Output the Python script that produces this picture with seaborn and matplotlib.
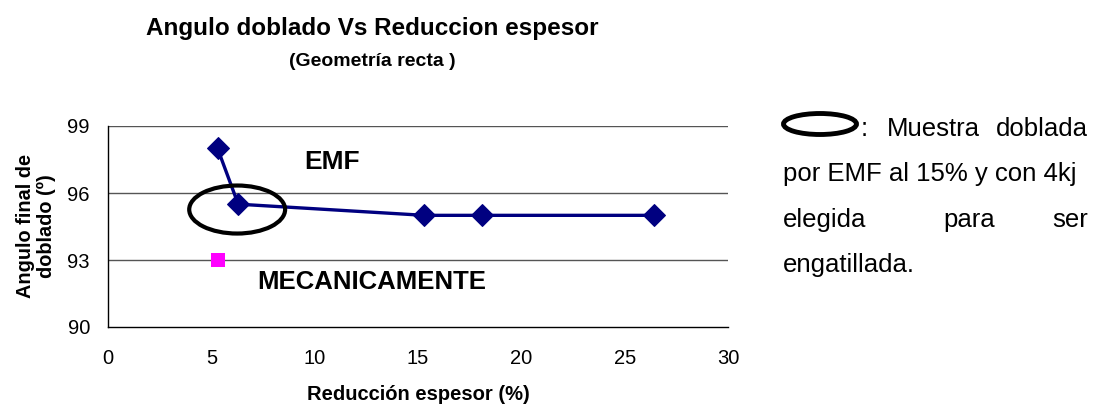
import matplotlib
matplotlib.use("Agg")
from matplotlib import pyplot as plt
from matplotlib.patches import Ellipse
import pandas as pd
import seaborn as sns

# datos
reduccion_emf = [5.3, 6.3, 15.3, 18.1, 26.4]
angulo_emf = [98.0, 95.5, 95.0, 95.0, 95.0]
reduccion_mec = [5.3]
angulo_mec = [93.0]
xticks = [0, 5, 10, 15, 20, 25, 30]
yticks = [90, 93, 96, 99]

sns.set_style("white")
plt.rcParams["font.family"] = ["Liberation Sans", "DejaVu Sans"]
plt.rcParams["text.color"] = "black"
plt.rcParams["axes.labelcolor"] = "black"
plt.rcParams["xtick.color"] = "black"
plt.rcParams["ytick.color"] = "black"

W, H = 1099, 405
fig = plt.figure(figsize=(W / 100, H / 100), dpi=100)
ax = fig.add_axes([108 / W, 1 - 327 / H, 620 / W, 201 / H])

df_emf = pd.DataFrame({"x": reduccion_emf, "y": angulo_emf})
df_mec = pd.DataFrame({"x": reduccion_mec, "y": angulo_mec})

for t in yticks[1:]:
    ax.axhline(t, color="#555555", linewidth=1.0, zorder=0)

sns.lineplot(data=df_emf, x="x", y="y", ax=ax, color="#000080", linewidth=2.4,
             marker="D", markersize=11, markeredgecolor="#000080", sort=False)
sns.scatterplot(data=df_mec, x="x", y="y", ax=ax, color="#FF00FF", marker="s",
                s=100, edgecolor="#FF00FF", linewidth=0, zorder=5)

ax.add_patch(Ellipse((6.25, 95.26), 4.64, 2.15, fill=False, edgecolor="black",
                     linewidth=3, zorder=6))

ax.text(9.5, 97.37, "EMF", fontsize=19, fontweight="bold", va="center", ha="left")
ax.text(7.2, 92.0, "MECANICAMENTE", fontsize=18.5, fontweight="bold",
        va="center", ha="left")

ax.set_xlim(0, 30)
ax.set_ylim(90, 99)
ax.set_xticks(xticks)
ax.set_yticks(yticks)
ax.tick_params(axis="both", direction="out", length=6, width=1, pad=7,
               labelsize=14.5)
ax.tick_params(axis="x", pad=10)
for s in ["top", "right"]:
    ax.spines[s].set_visible(False)
for s in ["left", "bottom"]:
    ax.spines[s].set_color("black")
    ax.spines[s].set_linewidth(1)

ax.set_xlabel("Reducción espesor (%)", fontsize=14.5, fontweight="bold", labelpad=12)
ax.set_ylabel("Angulo final de\ndoblado (º)", fontsize=14.3, fontweight="bold",
              labelpad=8, linespacing=1.15)

fig.text(372 / W, 1 - 28 / H, "Angulo doblado Vs Reduccion espesor",
         fontsize=17.5, fontweight="bold", ha="center", va="center")
fig.text(372 / W, 1 - 61 / H, "(Geometría recta )",
         fontsize=14, fontweight="bold", ha="center", va="center")

# nota lateral
fig.add_artist(Ellipse((820 / W, 1 - 124 / H), 73 / W, 21 / H, fill=False,
                       edgecolor="black", linewidth=3.5,
                       transform=fig.transFigure))
fs = 18.5
def ftxt(px, py, s, ha="left"):
    fig.text(px / W, 1 - py / H, s, fontsize=fs, ha=ha, va="baseline")

ftxt(861, 136, ":")
ftxt(887, 136, "Muestra")
ftxt(1088, 136, "doblada", ha="right")
ftxt(783, 181, "por EMF al 15% y con 4kj")
ftxt(783, 227, "elegida")
ftxt(969, 227, "para", ha="center")
ftxt(1088, 227, "ser", ha="right")
ftxt(783, 272, "engatillada.")

fig.savefig("out.png", dpi=100)
